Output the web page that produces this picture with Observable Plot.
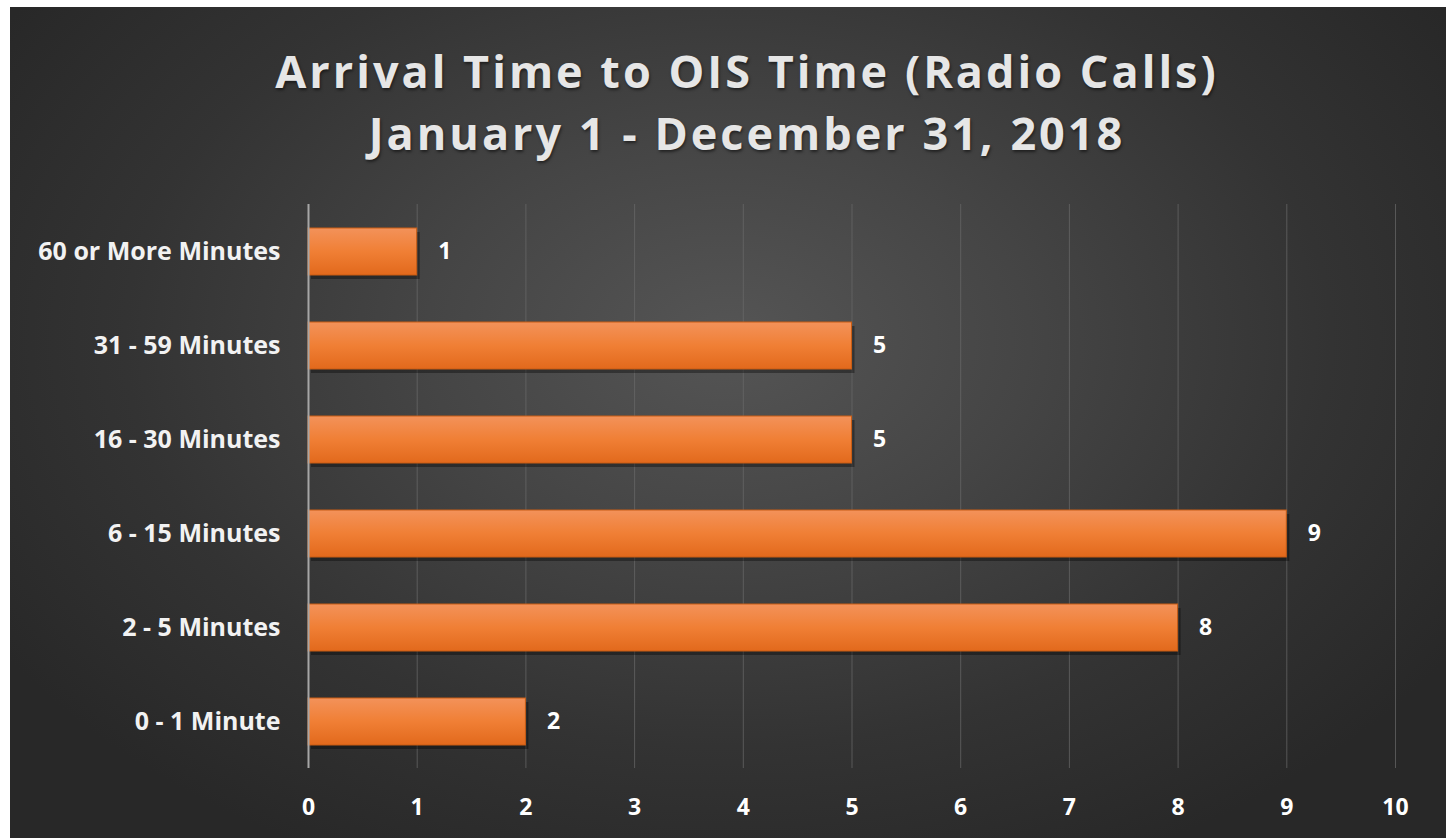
<!DOCTYPE html>
<html>
<head>
<meta charset="utf-8">
<script src="https://cdn.jsdelivr.net/npm/d3@7"></script>
<script src="https://cdn.jsdelivr.net/npm/@observablehq/plot@0.6"></script>
<style>
  html, body { margin: 0; padding: 0; background: #ffffff; width: 1452px; height: 838px; overflow: hidden; }
  #frame {
    position: absolute; left: 10px; top: 7px; width: 1436px; height: 831px;
    background: radial-gradient(ellipse 60% 70% at 50% 40%, #555555 0%, #454545 35%, #333333 70%, #282828 100%);
    font-family: "Open Sans", Lato, sans-serif;
  }
  #title {
    position: absolute; left: 19px; top: 33px; width: 100%; text-align: center;
    color: #e6e6e6; font-weight: 700; font-size: 45px; line-height: 62px; letter-spacing: 3px;
    text-shadow: 1px 2px 3px rgba(0,0,0,0.5);
  }
  #chart { position: absolute; left: 0; top: 173px; }
</style>
</head>
<body>
<div id="frame">
  <div id="title">Arrival Time to OIS Time (Radio Calls)<br>January 1 - December 31, 2018</div>
  <div id="chart"></div>
</div>
<script>
const categories = ["60 or More Minutes", "31 - 59 Minutes", "16 - 30 Minutes", "6 - 15 Minutes", "2 - 5 Minutes", "0 - 1 Minute"];
const values = [1, 5, 5, 9, 8, 2];
const xTicks = [0, 1, 2, 3, 4, 5, 6, 7, 8, 9, 10];

const data = categories.map((c, i) => ({category: c, value: values[i]}));

const chart = Plot.plot({
  width: 1436,
  height: 658,
  marginTop: 24,
  marginBottom: 70,
  marginLeft: 298,
  marginRight: 51,
  style: {background: "transparent", fontFamily: "'Open Sans', Lato, sans-serif", overflow: "visible"},
  x: {domain: [0, 10], ticks: xTicks, label: null},
  y: {domain: categories, paddingInner: 0.5, paddingOuter: 0.25, label: null},
  marks: [
    Plot.ruleX(xTicks.filter(d => d > 0), {stroke: "#6a6a6a", strokeWidth: 1, strokeOpacity: 0.7}),
    Plot.barX(data, {y: "category", x: "value", fill: "rgba(0,0,0,0.35)", dx: 3, dy: 4, style: "filter: blur(3px)"}),
    Plot.barX(data, {y: "category", x: "value", fill: "url(#barGrad)", stroke: "#c85d14", strokeWidth: 1}),
    Plot.ruleX([0], {stroke: "#a6a6a6", strokeWidth: 2}),
    Plot.text(data, {y: "category", x: "value", text: d => String(d.value), dx: 21, textAnchor: "start", fill: "#ffffff", fontSize: 23, fontWeight: 700}),
    Plot.axisX({ticks: xTicks, tickSize: 0, tickPadding: 30, fontSize: 23, fontWeight: 700, fill: "#ffffff", label: null}),
    Plot.axisY({tickSize: 0, tickPadding: 28, fontSize: 25, fontWeight: 700, fill: "#f2f2f2", label: null, style: "letter-spacing: -0.4px"})
  ]
});

const svg = d3.select(chart);
const defs = svg.insert("defs", ":first-child");
const g = defs.append("linearGradient").attr("id", "barGrad").attr("x1", 0).attr("y1", 0).attr("x2", 0).attr("y2", 1);
g.append("stop").attr("offset", "0%").attr("stop-color", "#f3925a");
g.append("stop").attr("offset", "50%").attr("stop-color", "#f07f35");
g.append("stop").attr("offset", "100%").attr("stop-color", "#e2691c");

document.getElementById("chart").appendChild(chart);
</script>
</body>
</html>
